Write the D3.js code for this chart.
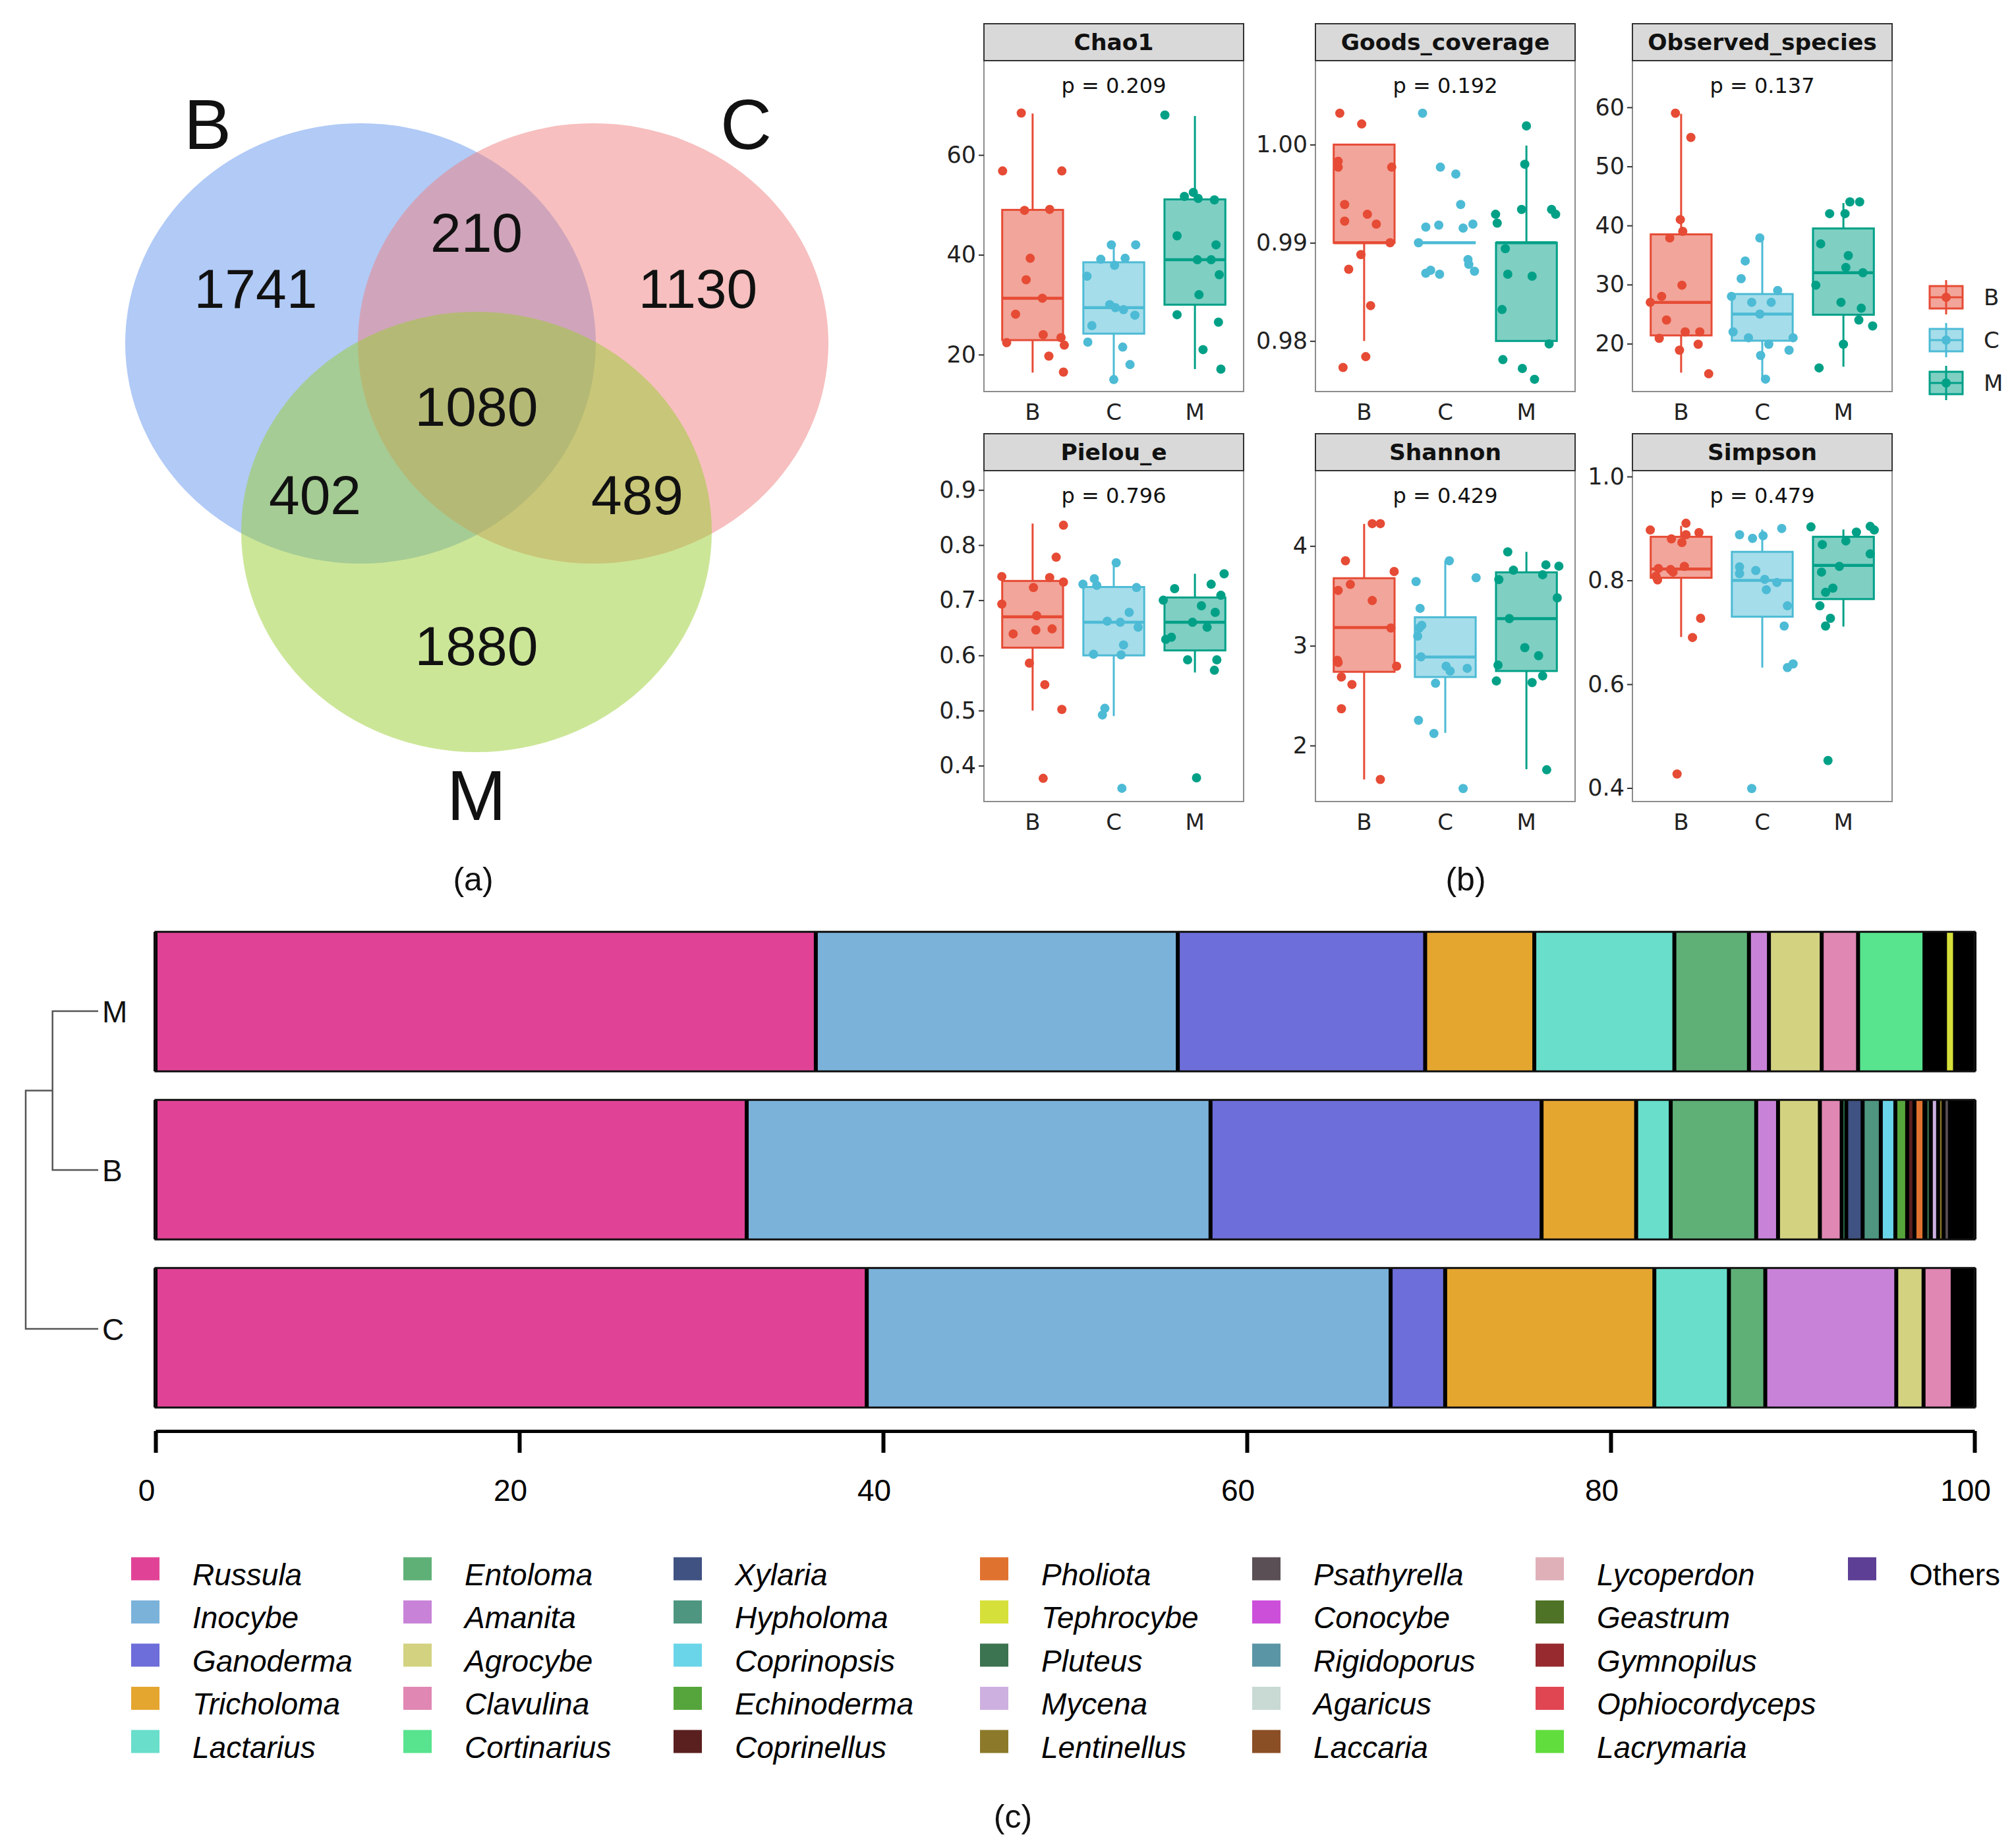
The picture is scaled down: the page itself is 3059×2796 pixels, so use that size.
<!DOCTYPE html>
<html>
<head>
<meta charset="utf-8">
<script src="https://cdn.jsdelivr.net/npm/d3@7"></script>
<style>
  body { margin: 0; background: #fff; }
</style>
</head>
<body>
<svg id="fig"></svg>
<script>
/////////////////////////////// DATA ///////////////////////////////

// (a) Venn
const vennSets = ["B", "C", "M"];
const vennColors = ["cornflowerblue", "lightcoral", "yellowgreen"];
const vennRegions = ["B", "C", "M", "BC", "BM", "CM", "BCM"];
const vennCounts = [1741, 1130, 1880, 210, 402, 489, 1080];

// (b) alpha diversity boxplots
const groups = ["B", "C", "M"];
const groupColors = ["#E64B35", "#4DBBD5", "#00A087"];
const metrics = ["Chao1", "Goods_coverage", "Observed_species", "Pielou_e", "Shannon", "Simpson"];
const pValues = ["0.209", "0.192", "0.137", "0.796", "0.429", "0.479"];
const yTicks = [
  [20, 40, 60],
  [0.98, 0.99, 1.00],
  [20, 30, 40, 50, 60],
  [0.4, 0.5, 0.6, 0.7, 0.8, 0.9],
  [2, 3, 4],
  [0.4, 0.6, 0.8, 1.0]
];
const tickFormats = ["d", ".2f", "d", ".1f", "d", ".1f"];

// box stats per group: [lower whisker, q1, median, q3, upper whisker]
const chao1Box = [[16.4, 22.9, 31.3, 49.0, 68.3], [15.0, 24.2, 29.4, 38.5, 42.0], [17.1, 30.0, 39.0, 51.1, 67.8]];
const goodsBox = [[0.980, 0.990, 0.990, 1.000, 1.000], [0.990, 0.990, 0.990, 0.990, 0.990], [0.980, 0.980, 0.990, 0.990, 0.9999]];
const observedBox = [[15.1, 21.4, 27.0, 38.5, 58.9], [14.0, 20.5, 25.0, 28.4, 37.9], [16.1, 24.9, 32.0, 39.5, 43.8]];
const pielouBox = [[0.500, 0.614, 0.670, 0.735, 0.839], [0.490, 0.600, 0.660, 0.724, 0.768], [0.569, 0.609, 0.660, 0.705, 0.748]];
const shannonBox = [[1.660, 2.739, 3.183, 3.677, 4.221], [2.127, 2.687, 2.887, 3.286, 3.852], [1.763, 2.747, 3.272, 3.736, 3.941]];
const simpsonBox = [[0.691, 0.805, 0.822, 0.884, 0.905], [0.632, 0.730, 0.800, 0.855, 0.898], [0.711, 0.764, 0.829, 0.884, 0.898]];

// sample points per group: [jitter (in group units), value]
const chao1Pts = [
  [[-0.14,68.4],[-0.37,56.8],[0.36,56.8],[-0.10,48.9],[0.21,49.1],[-0.03,39.3],[-0.08,35.0],[0.12,31.3],[-0.21,28.1],[0.13,24.0],[0.35,23.4],[-0.32,22.4],[0.39,21.9],[0.20,19.7],[0.38,16.5]],
  [[-0.03,42.0],[0.27,42.0],[-0.16,39.1],[0.14,39.3],[0.01,37.9],[-0.33,35.7],[-0.05,30.0],[0.02,29.4],[0.12,29.0],[0.26,27.9],[-0.27,25.8],[-0.32,22.5],[0.11,21.5],[0.20,18.0],[0.00,15.0]],
  [[-0.37,68.0],[-0.13,51.7],[-0.02,52.5],[0.04,51.3],[0.24,51.0],[-0.22,43.8],[0.26,42.0],[0.03,39.0],[0.20,39.0],[0.30,36.0],[0.05,32.0],[-0.22,28.0],[0.29,26.5],[0.10,21.0],[0.32,17.1]]
];
const goodsPts = [
  [[-0.30,1.0032],[-0.03,1.0021],[-0.32,0.9983],[-0.32,0.9977],[0.34,0.9977],[-0.24,0.9939],[0.04,0.9929],[-0.24,0.9922],[0.15,0.9919],[0.32,0.9900],[-0.04,0.9888],[-0.19,0.9873],[0.08,0.9836],[0.02,0.9784],[-0.26,0.9773]],
  [[-0.28,1.0032],[-0.06,0.9977],[0.13,0.9970],[0.19,0.9939],[-0.24,0.9916],[-0.08,0.9918],[0.22,0.9915],[0.34,0.9919],[-0.33,0.9900],[0.28,0.9883],[0.29,0.9878],[0.36,0.9871],[-0.24,0.9869],[-0.18,0.9872],[-0.07,0.9868]],
  [[0.00,1.0019],[-0.02,0.9980],[-0.06,0.9934],[0.31,0.9934],[0.36,0.9929],[-0.38,0.9929],[-0.36,0.9920],[-0.26,0.9894],[-0.23,0.9868],[0.07,0.9866],[-0.30,0.9832],[0.28,0.9797],[-0.29,0.9781],[-0.05,0.9772],[0.10,0.9761]]
];
const observedPts = [
  [[-0.07,59.0],[0.12,54.9],[-0.01,41.0],[0.02,39.0],[-0.14,37.9],[0.01,29.9],[-0.24,28.0],[-0.38,27.0],[-0.18,24.0],[0.05,22.0],[0.23,22.0],[-0.27,20.9],[0.21,19.9],[-0.02,18.9],[0.34,14.9]],
  [[-0.03,37.9],[-0.21,34.0],[-0.26,31.0],[0.19,29.0],[-0.38,28.0],[-0.13,27.0],[0.11,27.0],[-0.03,25.0],[-0.36,22.0],[-0.17,21.0],[0.38,21.0],[0.08,19.9],[0.33,18.9],[-0.02,18.0],[0.04,14.0]],
  [[0.08,44.0],[0.20,44.0],[-0.17,42.0],[0.02,42.0],[-0.28,36.9],[0.06,34.9],[0.03,32.9],[0.24,32.0],[-0.34,29.9],[-0.03,27.0],[0.22,26.0],[0.19,24.0],[0.36,23.0],[0.00,19.9],[-0.30,15.9]]
];
const pielouPts = [
  [[0.38,0.836],[0.29,0.778],[-0.38,0.743],[0.21,0.741],[0.38,0.733],[0.01,0.723],[-0.38,0.693],[0.05,0.672],[-0.24,0.639],[0.04,0.646],[0.24,0.648],[-0.04,0.586],[0.15,0.547],[0.36,0.502],[0.13,0.377]],
  [[0.03,0.768],[-0.24,0.739],[-0.21,0.727],[-0.38,0.729],[0.28,0.723],[0.19,0.678],[-0.08,0.662],[0.08,0.660],[0.30,0.651],[0.12,0.619],[-0.25,0.602],[0.09,0.601],[-0.11,0.504],[-0.14,0.492],[0.10,0.359]],
  [[0.36,0.748],[0.20,0.729],[-0.25,0.721],[0.32,0.709],[-0.39,0.700],[0.08,0.690],[0.25,0.678],[-0.03,0.660],[0.15,0.651],[-0.29,0.633],[-0.36,0.629],[-0.09,0.592],[0.27,0.592],[0.24,0.573],[0.02,0.378]]
];
const shannonPts = [
  [[0.10,4.224],[0.20,4.224],[-0.23,3.852],[0.37,3.744],[-0.17,3.615],[-0.32,3.555],[0.10,3.453],[0.33,3.178],[-0.33,2.854],[-0.32,2.833],[0.40,2.795],[-0.28,2.687],[-0.15,2.612],[-0.28,2.369],[0.20,1.660]],
  [[0.05,3.852],[-0.36,3.644],[0.38,3.682],[-0.31,3.375],[-0.29,3.205],[-0.32,3.178],[-0.34,3.097],[-0.30,2.889],[0.01,2.795],[0.06,2.747],[0.27,2.774],[-0.12,2.625],[-0.33,2.253],[-0.14,2.121],[0.22,1.569]],
  [[-0.23,3.941],[-0.16,3.757],[0.24,3.811],[0.40,3.798],[0.20,3.712],[-0.34,3.663],[0.38,3.480],[-0.21,3.272],[-0.02,2.981],[0.15,2.900],[-0.35,2.806],[-0.37,2.647],[0.07,2.631],[0.20,2.698],[0.25,1.757]]
];
const simpsonPts = [
  [[-0.38,0.897],[0.06,0.910],[0.22,0.892],[0.06,0.888],[-0.12,0.880],[0.01,0.873],[-0.28,0.823],[-0.13,0.821],[0.04,0.827],[-0.10,0.816],[-0.31,0.808],[-0.29,0.801],[0.24,0.727],[0.14,0.690],[-0.05,0.427]],
  [[0.24,0.900],[-0.28,0.888],[0.01,0.886],[-0.12,0.881],[-0.28,0.826],[-0.28,0.813],[-0.08,0.819],[0.03,0.802],[0.18,0.796],[0.05,0.782],[0.31,0.751],[0.27,0.712],[0.38,0.639],[0.31,0.632],[-0.13,0.399]],
  [[-0.40,0.903],[0.33,0.904],[0.38,0.897],[0.16,0.893],[0.03,0.876],[-0.26,0.869],[0.33,0.851],[-0.05,0.827],[-0.27,0.816],[-0.13,0.785],[-0.22,0.777],[-0.29,0.751],[-0.16,0.727],[-0.22,0.712],[-0.19,0.453]]
];

// (c) genus relative abundance (%)
const genera = ["Russula","Inocybe","Ganoderma","Tricholoma","Lactarius","Entoloma","Amanita","Agrocybe","Clavulina","Cortinarius",
  "Xylaria","Hypholoma","Coprinopsis","Echinoderma","Coprinellus","Pholiota","Tephrocybe","Pluteus","Mycena","Lentinellus",
  "Psathyrella","Conocybe","Rigidoporus","Agaricus","Laccaria","Lycoperdon","Geastrum","Gymnopilus","Ophiocordyceps","Lacrymaria","Others"];
const generaColors = ["#E04396","#7BB2DA","#6D6ED9","#E5A630","#68DECB","#5FB077","#C883D8","#D3D281","#E087B3","#58E38F",
  "#3F5282","#4E9680","#6AD5E8","#56A53C","#5A1F1F","#E0722F","#D6E03A","#3C7350","#CDB0E0","#8C7A2A",
  "#5A4F55","#CC4FDA","#5A95A5","#C9D9D3","#8B4F25","#E0B0B8","#4E7326","#962A2E","#E04652","#62DD3E","#5D3F96"];
const barSamples = ["M", "B", "C"];
const abundM = [36.3,19.9,13.6,6.0,7.7,4.1,1.1,2.9,2.0,3.65, 0.18,0.19,0.19,0.19,0.19,0.19,0.55,0.08,0.08,0.08,
  0.08,0.08,0.08,0.08,0.08,0.08,0.08,0.08,0.08,0.08,0.03];
const abundB = [32.5,25.5,18.2,5.2,1.9,4.7,1.2,2.3,1.2,0.25, 0.9,1.0,0.8,0.65,0.4,0.55,0.05,0.3,0.4,0.3,
  0.35,0.15,0.15,0.1,0.15,0.1,0.15,0.15,0.1,0.1,0.2];
const abundC = [39.1,28.8,3.0,11.5,4.1,2.0,7.2,1.5,1.6,0.1, 0.05,0.05,0.05,0.05,0.05,0.05,0.05,0.05,0.05,0.05,
  0.05,0.05,0.05,0.05,0.05,0.05,0.05,0.05,0.05,0.05,0.1];
const barTicks = [0, 20, 40, 60, 80, 100];

// dendrogram: leaf order and merge heights (relative)
const dendroLeaves = ["M", "B", "C"];
const dendroHeights = [0.63, 1.0];

/////////////////////////////// SETUP ///////////////////////////////

const W = 3059, H = 2796;
const sans = "'Liberation Sans', Arial, sans-serif";
const dejavu = "'DejaVu Sans', sans-serif";

const svg = d3.select("#fig").attr("width", W).attr("height", H);
svg.append("rect").attr("width", W).attr("height", H).attr("fill", "#fff");

/////////////////////////////// (a) VENN ///////////////////////////////

const vennRx = 357, vennRy = 334;
const vennCenters = [[547, 521], [900, 521], [723, 807]];
// where each region's count sits
const vennLabelAt = {
  B: [388, 437], C: [1059, 437], M: [723, 979],
  BC: [723, 352], BM: [478, 750], CM: [967, 750], BCM: [723, 616]
};

const venn = svg.append("g");
venn.selectAll("ellipse")
  .data(vennSets).enter()
  .append("ellipse")
  .attr("cx", (d, i) => vennCenters[i][0])
  .attr("cy", (d, i) => vennCenters[i][1])
  .attr("rx", vennRx)
  .attr("ry", vennRy)
  .attr("fill", (d, i) => vennColors[i])
  .attr("fill-opacity", 0.5);

venn.selectAll(".count")
  .data(vennRegions).enter()
  .append("text")
  .attr("class", "count")
  .attr("x", d => vennLabelAt[d][0])
  .attr("y", d => vennLabelAt[d][1])
  .attr("dy", "0.36em")
  .attr("text-anchor", "middle")
  .style("font-family", sans)
  .style("font-size", "84px")
  .attr("fill", "#111")
  .text((d, i) => vennCounts[i]);

// set names
const setLabelPos = [
  [vennCenters[0][0] - 0.65 * vennRx, vennCenters[0][1] - vennRy],
  [vennCenters[1][0] + 0.65 * vennRx, vennCenters[1][1] - vennRy],
  [vennCenters[2][0], vennCenters[2][1] + vennRy + 64]
];
venn.selectAll(".setname")
  .data(vennSets).enter()
  .append("text")
  .attr("x", (d, i) => setLabelPos[i][0])
  .attr("y", (d, i) => setLabelPos[i][1])
  .attr("dy", "0.36em")
  .attr("text-anchor", "middle")
  .style("font-family", sans)
  .style("font-size", "108px")
  .attr("fill", "#111")
  .text(d => d);

/////////////////////////////// (b) BOXPLOTS ///////////////////////////////

const panelX = [1493, 1996, 2477];
const panelW = 394;
const rowTop = [36, 658];
const stripH = 56;
const panelH = 502;
const yDomains = [[12.6, 78.9], [0.97485, 1.00855], [11.9, 67.9], [0.335, 0.935], [1.439, 4.755], [0.374, 1.0114]];
const allBoxes = [chao1Box, goodsBox, observedBox, pielouBox, shannonBox, simpsonBox];
const allPts = [chao1Pts, goodsPts, observedPts, pielouPts, shannonPts, simpsonPts];

metrics.forEach(function(metric, i) {
  const c = i % 3, r = Math.floor(i / 3);
  const x0 = panelX[c];
  const stripTop = rowTop[r];
  const top = stripTop + stripH;
  const bottom = top + panelH;

  const x = d3.scalePoint().domain(groups).range([x0, x0 + panelW]).padding(0.6);
  const y = d3.scaleLinear().domain(yDomains[i]).range([bottom, top]);
  const step = x.step();
  const bw = step * 0.75;

  const g = svg.append("g").attr("class", "panel");

  // boxes
  groups.forEach(function(grp, k) {
    const [lo, q1, med, q3, hi] = allBoxes[i][k];
    const cx = x(grp);
    const col = groupColors[k];
    g.append("line").attr("x1", cx).attr("x2", cx).attr("y1", y(q3)).attr("y2", y(hi))
      .attr("stroke", col).attr("stroke-width", 3);
    g.append("line").attr("x1", cx).attr("x2", cx).attr("y1", y(q1)).attr("y2", y(lo))
      .attr("stroke", col).attr("stroke-width", 3);
    g.append("rect")
      .attr("x", cx - bw / 2).attr("y", y(q3))
      .attr("width", bw).attr("height", Math.max(0, y(q1) - y(q3)))
      .attr("fill", col).attr("fill-opacity", 0.5)
      .attr("stroke", col).attr("stroke-width", 3);
    g.append("line").attr("x1", cx - bw / 2).attr("x2", cx + bw / 2)
      .attr("y1", y(med)).attr("y2", y(med))
      .attr("stroke", col).attr("stroke-width", 4.5);
  });

  // jittered samples
  groups.forEach(function(grp, k) {
    g.selectAll(".pt" + k)
      .data(allPts[i][k]).enter()
      .append("circle")
      .attr("cx", d => x(grp) + d[0] * step)
      .attr("cy", d => y(d[1]))
      .attr("r", 7)
      .attr("fill", groupColors[k]);
  });

  // panel border
  g.append("rect").attr("x", x0).attr("y", top).attr("width", panelW).attr("height", panelH)
    .attr("fill", "none").attr("stroke", "#8c8c8c").attr("stroke-width", 2);

  // strip
  g.append("rect").attr("x", x0).attr("y", stripTop).attr("width", panelW).attr("height", stripH)
    .attr("fill", "#d9d9d9").attr("stroke", "#333").attr("stroke-width", 2);
  g.append("text")
    .attr("x", x0 + panelW / 2).attr("y", stripTop + stripH / 2).attr("dy", "0.36em")
    .attr("text-anchor", "middle")
    .style("font-family", dejavu).style("font-size", "34.5px").style("font-weight", "bold")
    .attr("fill", "#111")
    .text(metric);

  // p value
  g.append("text")
    .attr("x", x0 + panelW / 2).attr("y", top + 37).attr("dy", "0.36em")
    .attr("text-anchor", "middle")
    .style("font-family", dejavu).style("font-size", "32px")
    .attr("fill", "#111")
    .text("p = " + pValues[i]);

  // y axis
  const ax = g.append("g")
    .attr("transform", `translate(${x0},0)`)
    .call(d3.axisLeft(y).tickValues(yTicks[i]).tickFormat(d3.format(tickFormats[i])).tickSize(8).tickPadding(4));
  ax.select(".domain").remove();
  ax.selectAll("line").attr("stroke", "#333").attr("stroke-width", 2);
  ax.selectAll("text").style("font-family", dejavu).style("font-size", "35px").attr("fill", "#222");

  // x labels
  g.selectAll(".xl")
    .data(groups).enter()
    .append("text")
    .attr("x", d => x(d)).attr("y", bottom + 31).attr("dy", "0.36em")
    .attr("text-anchor", "middle")
    .style("font-family", dejavu).style("font-size", "34px")
    .attr("fill", "#222")
    .text(d => d);
});

// group legend
const legY = d3.scalePoint().domain(groups).range([451, 581]);
const legCx = 2953;
const leg = svg.append("g");
groups.forEach(function(grp, k) {
  const cy = legY(grp), col = groupColors[k];
  leg.append("line").attr("x1", legCx).attr("x2", legCx).attr("y1", cy - 26).attr("y2", cy + 26)
    .attr("stroke", col).attr("stroke-width", 3);
  leg.append("rect").attr("x", legCx - 25).attr("y", cy - 17).attr("width", 50).attr("height", 34)
    .attr("fill", col).attr("fill-opacity", 0.5).attr("stroke", col).attr("stroke-width", 3);
  leg.append("line").attr("x1", legCx - 25).attr("x2", legCx + 25).attr("y1", cy).attr("y2", cy)
    .attr("stroke", col).attr("stroke-width", 3);
  leg.append("circle").attr("cx", legCx).attr("cy", cy).attr("r", 7).attr("fill", col);
  leg.append("text").attr("x", 3010).attr("y", cy).attr("dy", "0.36em")
    .style("font-family", dejavu).style("font-size", "34px").attr("fill", "#222")
    .text(grp);
});

/////////////////////////////// (c) STACKED BARS ///////////////////////////////

const xb = d3.scaleLinear().domain([0, 100]).range([236, 2996]);
const yb = d3.scaleBand().domain(barSamples).range([1392, 2157]).paddingInner(0.17).paddingOuter(0.085);
const abund = { M: abundM, B: abundB, C: abundC };

const bars = svg.append("g");
barSamples.forEach(function(s) {
  const ends = Array.from(d3.cumsum(abund[s]));
  const segs = abund[s].map((v, i) => ({ g: i, x0: ends[i] - v, x1: ends[i] }));
  const row = bars.append("g");
  row.selectAll("rect")
    .data(segs).enter()
    .append("rect")
    .attr("x", d => xb(d.x0))
    .attr("y", yb(s))
    .attr("width", d => Math.max(0, xb(d.x1) - xb(d.x0)))
    .attr("height", yb.bandwidth())
    .attr("fill", d => generaColors[d.g]);
  // segment separators
  row.selectAll("line")
    .data([0].concat(ends)).enter()
    .append("line")
    .attr("x1", d => xb(Math.min(d, 100))).attr("x2", d => xb(Math.min(d, 100)))
    .attr("y1", yb(s)).attr("y2", yb(s) + yb.bandwidth())
    .attr("stroke", "#000").attr("stroke-width", 6);
  row.append("rect")
    .attr("x", xb(0)).attr("y", yb(s))
    .attr("width", xb(100) - xb(0)).attr("height", yb.bandwidth())
    .attr("fill", "none").attr("stroke", "#111").attr("stroke-width", 3);
});

const xAxis = svg.append("g")
  .attr("transform", "translate(0,2171)")
  .call(d3.axisBottom(xb).tickValues(barTicks).tickSize(33).tickSizeOuter(0).tickPadding(40));
xAxis.select(".domain").attr("stroke", "#000").attr("stroke-width", 5);
xAxis.selectAll(".tick line").attr("stroke", "#000").attr("stroke-width", 6);
xAxis.selectAll("text")
  .attr("dx", -14)
  .style("font-family", sans).style("font-size", "46px").attr("fill", "#000");

// dendrogram
const dxs = d3.scaleLinear().domain([0, 1]).range([149, 39]);
const dys = d3.scalePoint().domain(dendroLeaves).range([1534, 2016]);
const dendro = svg.append("g").attr("stroke", "#555").attr("stroke-width", 2.5).attr("fill", "none");
const h1 = dxs(dendroHeights[0]), h2 = dxs(dendroHeights[1]);
const mid = (dys("M") + dys("B")) / 2;
const dendroPath = d3.path();
dendroPath.moveTo(dxs(0), dys("M")); dendroPath.lineTo(h1, dys("M"));
dendroPath.lineTo(h1, dys("B")); dendroPath.lineTo(dxs(0), dys("B"));
dendroPath.moveTo(h1, mid); dendroPath.lineTo(h2, mid);
dendroPath.lineTo(h2, dys("C")); dendroPath.lineTo(dxs(0), dys("C"));
dendro.append("path").attr("d", dendroPath.toString());
svg.selectAll(".leaf")
  .data(dendroLeaves).enter()
  .append("text")
  .attr("x", 155).attr("y", d => dys(d)).attr("dy", "0.36em")
  .style("font-family", sans).style("font-size", "46px").attr("fill", "#111")
  .text(d => d);

// genus legend (column-major, 5 rows)
const legendColX = [199, 612, 1022, 1487, 1900, 2330, 2804];
const legendRowY = d3.scalePoint().domain(d3.range(5)).range([2388, 2650]);
const gl = svg.append("g");
genera.forEach(function(name, i) {
  const cx = legendColX[Math.floor(i / 5)];
  const cy = legendRowY(i % 5);
  gl.append("rect").attr("x", cx).attr("y", cy - 8 - 17.5).attr("width", 43).attr("height", 35)
    .attr("fill", generaColors[i]);
  gl.append("text").attr("x", cx + 93).attr("y", cy).attr("dy", "0.36em")
    .style("font-family", sans).style("font-size", "46px")
    .style("font-style", name === "Others" ? "normal" : "italic")
    .attr("fill", "#000")
    .text(name);
});

/////////////////////////////// PANEL TAGS ///////////////////////////////

svg.selectAll(".tag")
  .data([["(a)", 718, 1333], ["(b)", 2224, 1333], ["(c)", 1537, 2755]]).enter()
  .append("text")
  .attr("x", d => d[1]).attr("y", d => d[2]).attr("dy", "0.36em")
  .attr("text-anchor", "middle")
  .style("font-family", sans).style("font-size", "50px").attr("fill", "#111")
  .text(d => d[0]);
</script>
</body>
</html>
